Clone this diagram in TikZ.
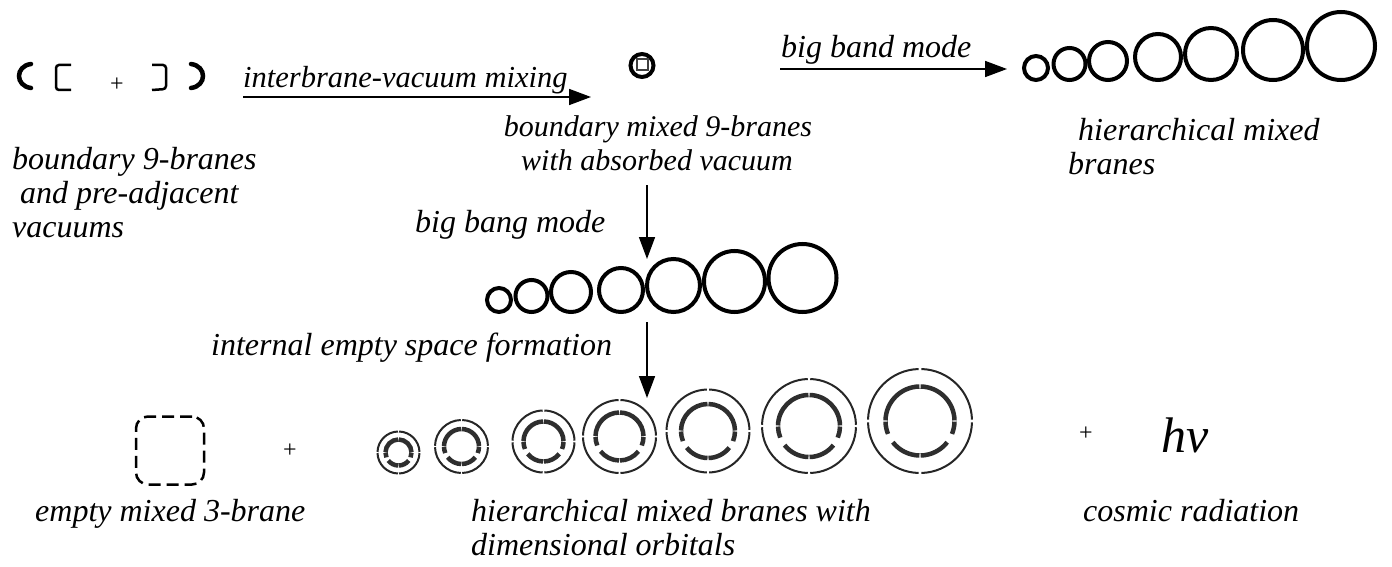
\documentclass[tikz,border=0pt]{standalone}
\usepackage{fontspec}
\setmainfont{Liberation Serif}
\usetikzlibrary{arrows.meta}
\begin{document}
\begin{tikzpicture}[x=1pt,y=-1pt,
  lab/.style={font=\itshape\fontsize{32}{34}\selectfont, inner sep=0pt, anchor=base west},
  labc/.style={font=\itshape\fontsize{30}{34}\selectfont, inner sep=0pt, anchor=base},
  plus/.style={font=\fontsize{24}{24}\selectfont, inner sep=0pt},
  arr/.style={line width=1.6pt, -{Triangle[length=22pt,width=16pt]}},
  ring/.style={draw, circle, line width=4pt, inner sep=0pt},
  orbout/.style={line width=2pt, black!85},
  orbin/.style={line width=4.5pt, black!82},
  brk/.style={line width=2.5pt, rounded corners=3pt},
  paren/.style={line width=4.5pt, line cap=round},
  emptybox/.style={draw, line width=2.5pt, dash pattern=on 12pt off 6pt, rounded corners=12pt, inner sep=0pt, minimum size=68pt}]
\useasboundingbox (0,0) rectangle (1392,567);

% boundary branes and vacuums
\draw[paren] (31,64) .. controls (15,66) and (15,86) .. (31,88);
\draw[brk] (71,65) -- (56,65) -- (56,90) -- (71,90);
\node[plus] (p0) at (117,85) {+};
\draw[brk] (152,65) -- (166,65) -- (166,89) -- (152,90);
\draw[paren] (191,64) .. controls (207,66) and (207,86) .. (191,88);

\node[lab] (l1a) at (12,169) {boundary 9-branes};
\node[lab] (l1b) at (20,203) {and pre-adjacent};
\node[lab] (l1c) at (12,237) {vacuums};

% arrow 1
\coordinate (a1s) at (243,97);
\coordinate (a1e) at (591,97);
\draw[arr] (a1s) -- (a1e);
\node[lab, font=\itshape\fontsize{30.5}{34}\selectfont] (t1) at (243,88) {interbrane-vacuum mixing};

% mixed brane with absorbed vacuum
\node[ring, minimum size=23pt] (mix) at (642,65.5) {};
\node[draw, black!75, line width=2pt, inner sep=0pt, minimum size=11pt] (vac) at (642.5,64.5) {};
\node[labc] (l2a) at (658,137) {boundary mixed 9-branes};
\node[labc] (l2b) at (657,170) {with absorbed vacuum};

% arrow 2
\coordinate (a2s) at (780,69);
\coordinate (a2e) at (1007,69);
\draw[arr] (a2s) -- (a2e);
\node[lab] (t2) at (781,58) {big band mode};

% top row circles
\foreach \x/\y/\d [count=\i] in {1036/68/24, 1069.5/64/32, 1108/61/38, 1158/57/46, 1211/54/52, 1273/50/60, 1341/46/68}
  \node[ring, minimum size=\d pt] (top\i) at (\x,\y) {};
\node[lab] (l3a) at (1078,141) {hierarchical mixed};
\node[lab] (l3b) at (1068,175) {branes};

% arrow 3
\coordinate (a3s) at (647,185);
\coordinate (a3e) at (647,259);
\draw[arr] (a3s) -- (a3e);
\node[lab] (t3) at (415,232) {big bang mode};

% middle row circles
\foreach \x/\y/\d [count=\i] in {499/300/24, 531.5/296/32, 571/292/40, 621/290/44, 673.5/285.5/53, 734.5/281.5/61, 802.5/278/68}
  \node[ring, minimum size=\d pt] (mid\i) at (\x,\y) {};

% arrow 4
\coordinate (a4s) at (647,322);
\coordinate (a4e) at (647,398);
\draw[arr] (a4s) -- (a4e);
\node[lab] (t4) at (211,355) {internal empty space formation};

% bottom row
\node[emptybox] (empty) at (170,450.5) {};
\node[plus] (p1) at (290,451) {+};
\node[lab] (l4) at (35,521) {empty mixed 3-brane};

\foreach \x/\y/\ro/\ri [count=\i] in {398.5/452.5/21/13, 461.5/446.5/26.5/17.5, 543.5/441.5/31/20, 619.5/436.5/36.5/24, 708/431/41.5/27, 809/426/47/31, 920/421/52/34.5} {
  \coordinate (orb\i) at (\x,\y);
  \foreach \a in {0,90,180,270}
    \draw[orbout] (orb\i) ++(\a+1.5:\ro) arc[start angle=\a+1.5, end angle=\a+88.5, radius=\ro];
  \foreach \s/\e in {1/22, 38/89, 91/142, 158/179, 181/269, 271/359}
    \draw[orbin] (orb\i) ++(\s:\ri) arc[start angle=\s, end angle=\e, radius=\ri];
}
\node[lab] (l5a) at (471,521) {hierarchical mixed branes with};
\node[lab] (l5b) at (471,555) {dimensional orbitals};

\node[plus] (p2) at (1086,434) {+};
\node[font=\itshape\fontsize{50}{50}\selectfont, inner sep=0pt, anchor=base west] (hnu) at (1161,452) {h\char"03BD};
\node[lab] (l6) at (1083,521) {cosmic radiation};
\end{tikzpicture}
\end{document}
